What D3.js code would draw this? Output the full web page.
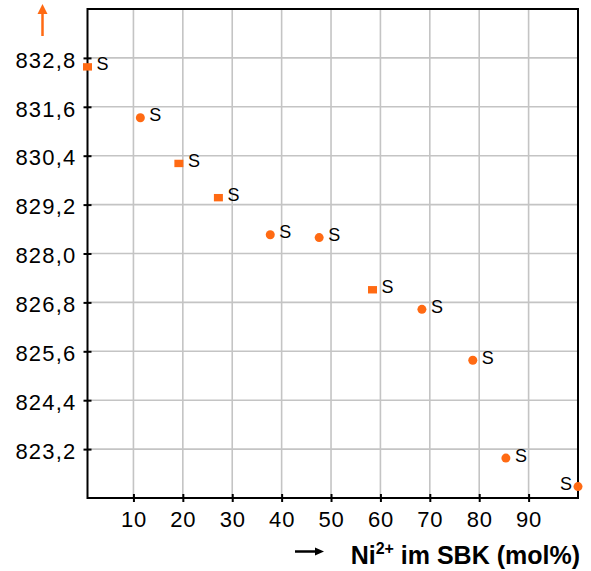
<!DOCTYPE html>
<html>
<head>
<meta charset="utf-8">
<script src="https://cdn.jsdelivr.net/npm/d3@7"></script>
<style>
	body { margin: 0; background: #fff; }
	svg { display: block; font-family: "Liberation Sans", Arial, sans-serif; }
</style>
</head>
<body>
<div class="container"></div>
<script>
// values
var niPercent = [0.7, 11.4, 19.2, 27.2, 37.7, 47.6, 58.4, 68.4, 78.7, 85.4, 100];
var latticeVal = [832.58, 831.33, 830.21, 829.37, 828.46, 828.39, 827.11, 826.63, 825.38, 822.98, 822.28];
var markerShape = ["square", "circle", "square", "square", "circle", "circle", "square", "circle", "circle", "circle", "circle"];
var pointLabels = ["S", "S", "S", "S", "S", "S", "S", "S", "S", "S", "S"];
var xTicks = [10, 20, 30, 40, 50, 60, 70, 80, 90];
var yTicks = [823.2, 824.4, 825.6, 826.8, 828.0, 829.2, 830.4, 831.6, 832.8];

var chart = function () {
	var width = 591, height = 571;
	var orange = "#ff6a13";

	var init = function () {
		var paper = d3.select('.container').append("svg")
			.attr("width", width)
			.attr("height", height);

		var x = d3.scaleLinear().domain([0.7, 100]).range([87.5, 578]);
		var y = d3.scaleLinear().domain([822, 834]).range([498, 9]);

		// grid
		paper.append("g").selectAll("line").data(xTicks).enter().append("line")
			.attr("x1", function (d) { return x(d); })
			.attr("x2", function (d) { return x(d); })
			.attr("y1", y(834)).attr("y2", y(822))
			.attr("stroke", "#c4c4c4").attr("stroke-width", 1.6);
		paper.append("g").selectAll("line").data(yTicks).enter().append("line")
			.attr("y1", function (d) { return y(d); })
			.attr("y2", function (d) { return y(d); })
			.attr("x1", x(0.7)).attr("x2", x(100))
			.attr("stroke", "#c4c4c4").attr("stroke-width", 1.6);

		// frame
		paper.append("rect")
			.attr("x", x(0.7)).attr("y", y(834))
			.attr("width", x(100) - x(0.7)).attr("height", y(822) - y(834))
			.attr("fill", "none").attr("stroke", "#000").attr("stroke-width", 2);

		// axes
		var fmt = function (d) { return d3.format(".1f")(d).replace(".", ","); };
		var yAxis = paper.append("g")
			.attr("transform", "translate(" + x(0.7) + ",0)")
			.call(d3.axisLeft(y).tickValues(yTicks).tickFormat(fmt).tickSizeInner(4).tickSizeOuter(0).tickPadding(7));
		yAxis.select(".domain").remove();
		yAxis.selectAll(".tick line").attr("x2", 4).attr("x1", -4).attr("stroke-width", 2);
		yAxis.selectAll("text").attr("font-size", 22).attr("fill", "#000")
			.attr("letter-spacing", 1.2).attr("dy", "0.42em")
			.attr("font-family", "Liberation Sans, Arial, sans-serif");

		var xAxis = paper.append("g")
			.attr("transform", "translate(0," + y(822) + ")")
			.call(d3.axisBottom(x).tickValues(xTicks).tickSizeInner(4).tickSizeOuter(0).tickPadding(9));
		xAxis.select(".domain").remove();
		xAxis.selectAll(".tick line").attr("y1", -4).attr("y2", 4).attr("stroke-width", 2);
		xAxis.selectAll("text").attr("font-size", 22).attr("fill", "#000")
			.attr("letter-spacing", 0.8)
			.attr("font-family", "Liberation Sans, Arial, sans-serif");

		// y direction arrow
		paper.append("line")
			.attr("x1", 42.5).attr("x2", 42.5).attr("y1", 36).attr("y2", 12)
			.attr("stroke", orange).attr("stroke-width", 2.5);
		paper.append("path")
			.attr("d", "M37.5,14 L42.5,4 L47.5,14 Z")
			.attr("fill", orange);

		// x title
		paper.append("line")
			.attr("x1", 295).attr("x2", 318).attr("y1", 551.5).attr("y2", 551.5)
			.attr("stroke", "#000").attr("stroke-width", 2.5);
		paper.append("path")
			.attr("d", "M315,547.5 L324,551.5 L315,555.5 Z")
			.attr("fill", "#000");
		var title = paper.append("text")
			.attr("x", 580).attr("y", 563.5)
			.attr("text-anchor", "end")
			.attr("font-size", 25).attr("font-weight", "bold");
		title.append("tspan").text("Ni");
		title.append("tspan").attr("font-size", 16).attr("dy", -10).text("2+");
		title.append("tspan").attr("dy", 10).text(" im SBK (mol%)");

		// points
		var data = niPercent.map(function (v, i) {
			return { x: v, y: latticeVal[i], shape: markerShape[i], label: pointLabels[i] };
		});
		var pts = paper.append("g").selectAll("g").data(data).enter().append("g")
			.attr("transform", function (d) { return "translate(" + x(d.x) + "," + y(d.y) + ")"; });
		pts.filter(function (d) { return d.shape === "square"; }).append("rect")
			.attr("x", -4.5).attr("y", -3.7).attr("width", 9).attr("height", 7.4)
			.attr("fill", orange);
		pts.filter(function (d) { return d.shape === "circle"; }).append("circle")
			.attr("r", 4.5)
			.attr("fill", orange);
		pts.append("text")
			.attr("x", function (d, i) { return i === data.length - 1 ? -6 : 9; })
			.attr("y", 3.5)
			.attr("text-anchor", function (d, i) { return i === data.length - 1 ? "end" : "start"; })
			.attr("font-size", 18)
			.text(function (d) { return d.label; });
	};

	return Object.freeze({ init: init });
};

chart().init();
</script>
</body>
</html>
